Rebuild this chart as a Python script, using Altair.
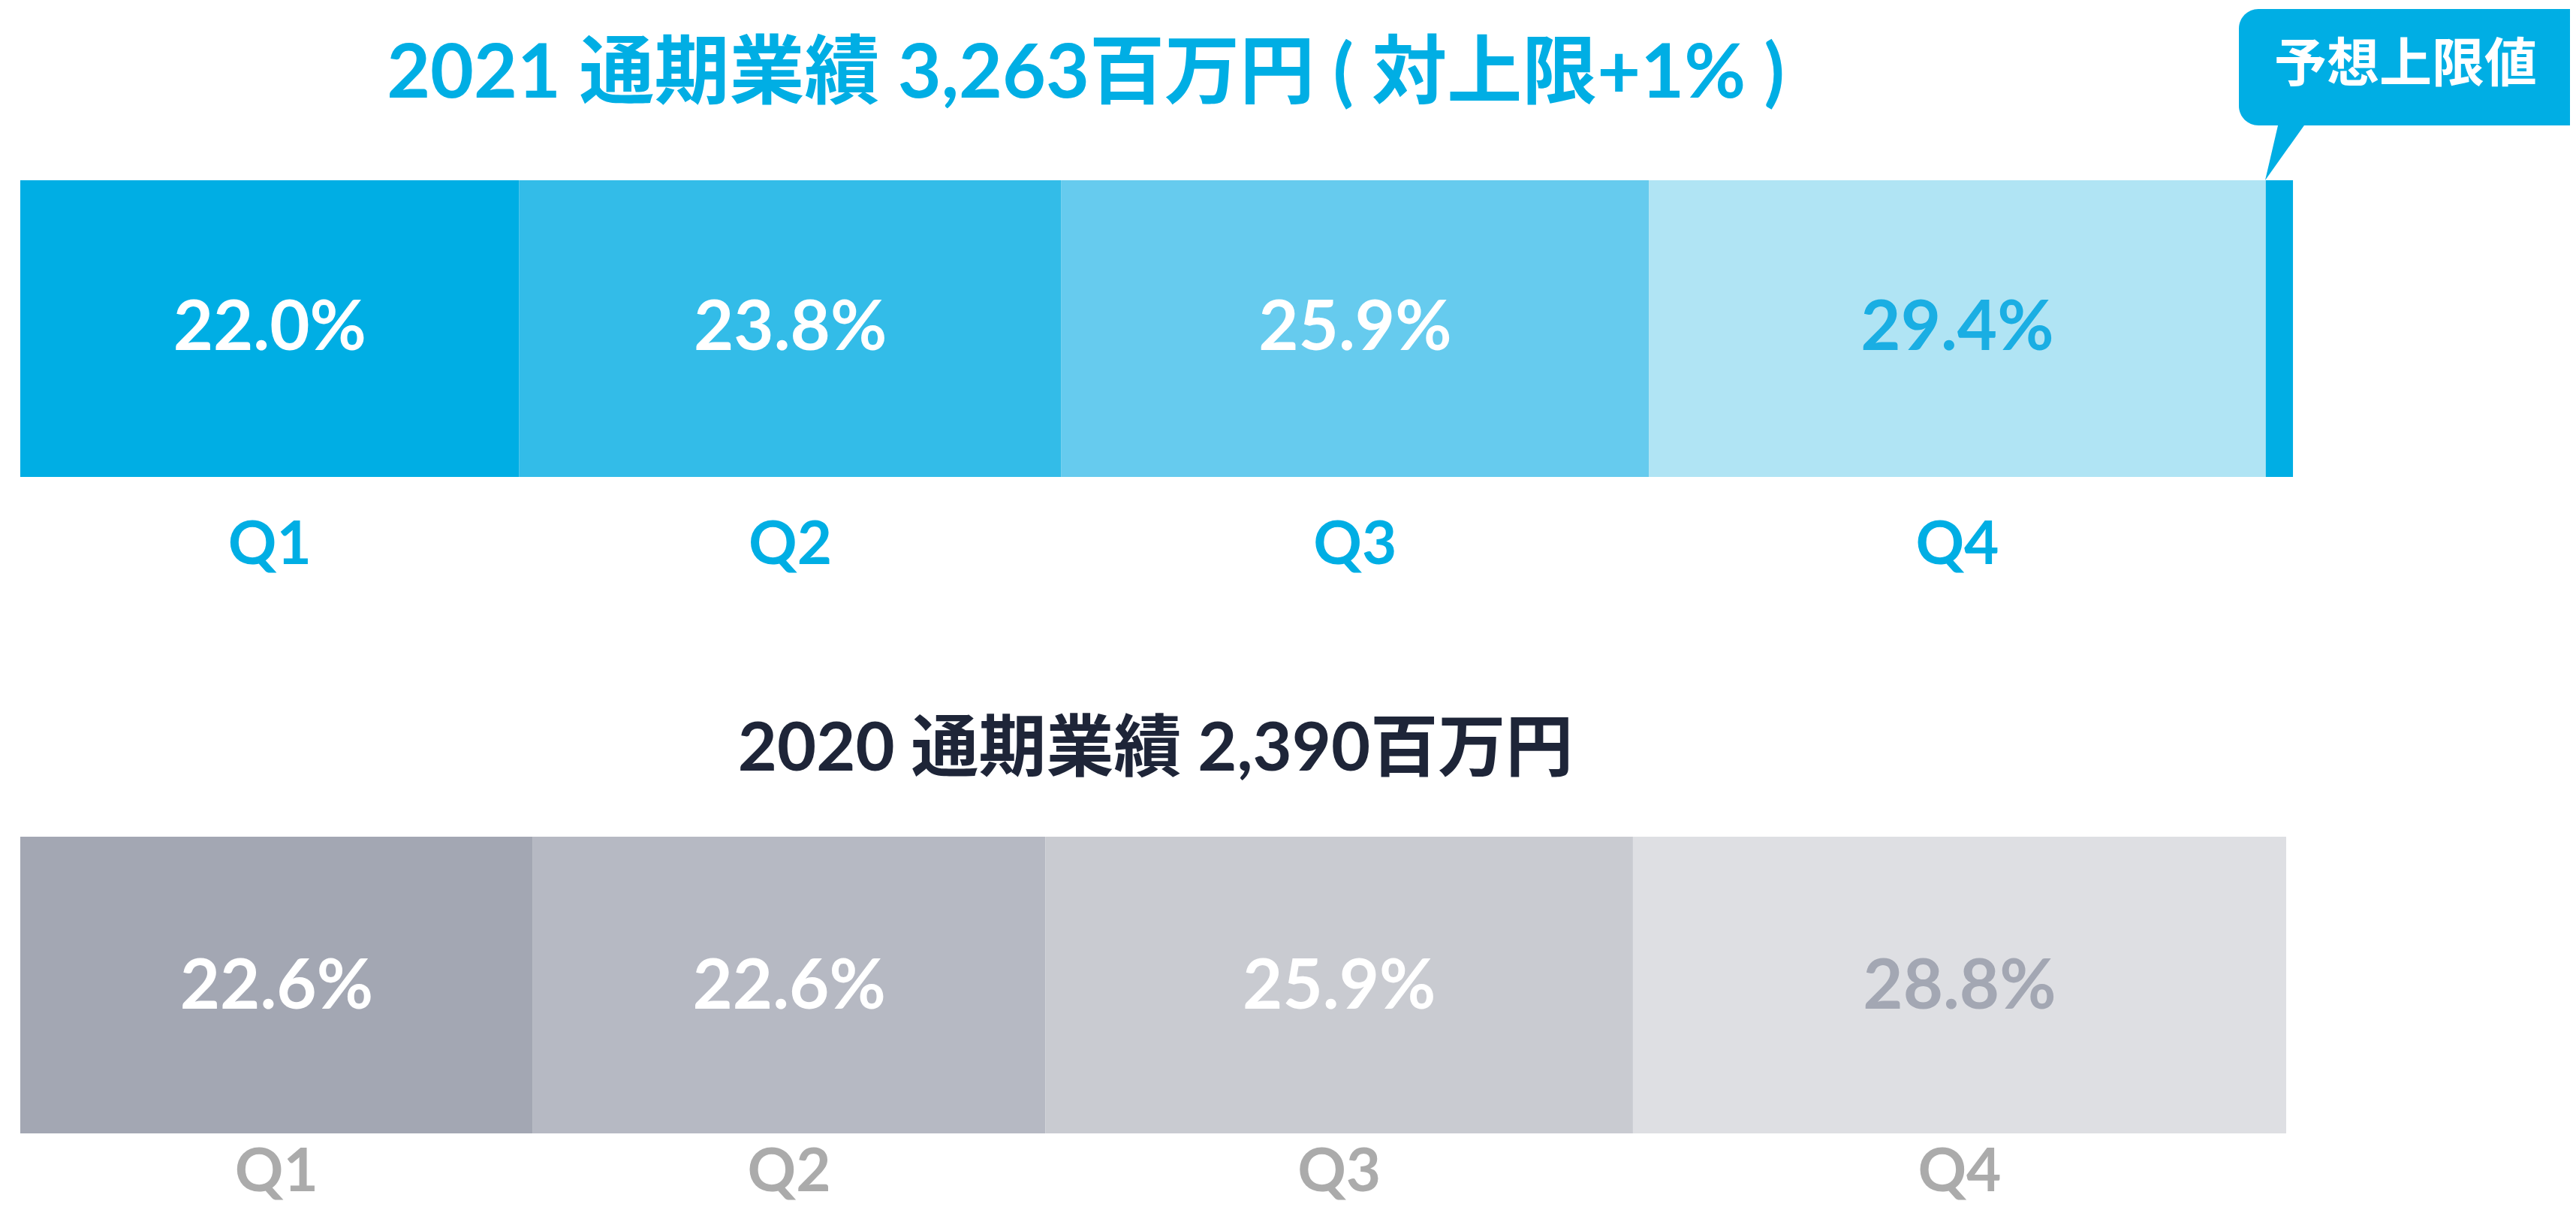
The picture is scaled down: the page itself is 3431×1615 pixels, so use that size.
import altair as alt
import pandas as pd

# ---------------- data ----------------
quarters = ["Q1", "Q2", "Q3", "Q4"]

# 2021: drawn segment widths (% of the full bar) and printed labels
shares_2021 = [22.0, 23.9, 25.9, 27.2]
labels_2021 = ["22.0%", "23.8%", "25.9%", "29.4%"]
excess_2021 = 1.2          # dark sliver beyond the forecast upper limit
title_2021 = "2021 通期業績 3,263百万円 ( 対上限+1% )"

# 2020
shares_2020 = [22.6, 22.6, 25.9, 28.8]
labels_2020 = ["22.6%", "22.6%", "25.9%", "28.8%"]
title_2020 = "2020 通期業績 2,390百万円"

callout_text = "予想上限値"

# ---------------- styles ----------------
fills_2021 = ["#00AEE4", "#33BCE8", "#66CBEE", "#B0E4F4"]
fills_2020 = ["#A3A7B3", "#B6B9C3", "#C9CBD1", "#DEDFE3"]
pct_colors_2021 = ["#FFFFFF", "#FFFFFF", "#FFFFFF", "#1AAEE3"]
pct_colors_2020 = ["#FFFFFF", "#FFFFFF", "#FFFFFF", "#A3A7B3"]
CYAN = "#00AEE4"
NAVY = "#1E2538"
QGRAY = "#ABABAB"
FONT = "Lato, 'Noto Sans CJK JP', sans-serif"
CJK = "'Noto Sans CJK JP', sans-serif"


def build(year, shares, labels, fills, pct_colors):
    rows = []
    start = 0.0
    for q, s, lab, f, pc in zip(quarters, shares, labels, fills, pct_colors):
        rows.append(dict(year=year, q=q, start=start, end=start + s,
                         mid=start + s / 2, label=lab, fill=f, pcolor=pc))
        start += s
    return rows, start


rows21, end21 = build("2021", shares_2021, labels_2021, fills_2021, pct_colors_2021)
rows20, _ = build("2020", shares_2020, labels_2020, fills_2020, pct_colors_2020)
q21 = pd.DataFrame(rows21)
q20 = pd.DataFrame(rows20)
extra = pd.DataFrame([dict(year="2021", q="上限超過", start=end21,
                           end=end21 + excess_2021, mid=end21 + excess_2021 / 2,
                           label="", fill=CYAN, pcolor=CYAN)])
segments = pd.concat([q21, extra, q20], ignore_index=True)

x_scale = alt.Scale(domain=[0, 100], range=[19, 3040])
y_scale = alt.Scale(domain=["2021", "2020"], range=[232, 1501],
                    paddingInner=0.548, paddingOuter=0)

X = lambda f: alt.X(f, type="quantitative", scale=x_scale, axis=None)
Y = alt.Y("year:N", scale=y_scale, axis=None)

bars = alt.Chart(segments).mark_bar().encode(
    x=X("start"), x2="end", y=Y,
    color=alt.Color("fill:N", scale=None),
)


def row_text(df, pct_dy, q_dy, q_color):
    pct = alt.Chart(df).mark_text(
        font=FONT, fontSize=92, fontWeight="bold", baseline="alphabetic",
        align="center", dy=pct_dy,
    ).encode(x=X("mid"), y=Y, text="label:N",
             color=alt.Color("pcolor:N", scale=None))
    ql = alt.Chart(df).mark_text(
        font=FONT, fontSize=80, fontWeight="bold", baseline="alphabetic",
        align="center", dy=q_dy, color=q_color,
    ).encode(x=X("mid"), y=Y, text="q:N")
    return pct + ql


text21 = row_text(q21, 28.5, 313.5, CYAN)
text20 = row_text(q20, 31.5, 275, QGRAY)

t21 = alt.Chart(pd.DataFrame({"year": ["2021"], "t": [title_2021]})).mark_text(
    font=FONT, fontSize=100, fontWeight="bold", baseline="alphabetic",
    align="center", dy=-307.5, color=CYAN,
).encode(x=alt.value(1438), y=Y, text="t:N")

t20 = alt.Chart(pd.DataFrame({"year": ["2020"], "t": [title_2020]})).mark_text(
    font=FONT, fontSize=90, fontWeight="bold", baseline="alphabetic",
    align="center", dy=-285.5, color=NAVY,
).encode(x=alt.value(1531), y=Y, text="t:N")

callout_df = pd.DataFrame({"t": [callout_text]})
box = alt.Chart(callout_df).mark_rect(cornerRadius=26, color=CYAN).encode(
    x=alt.value(2974), x2=alt.value(3440), y=alt.value(4), y2=alt.value(159)
)
pointer = alt.Chart(callout_df).mark_point(
    shape="M -0.66 0.9 L -0.24 -0.9 L 0.62 -0.9 Z", size=10000,
    filled=True, color=CYAN, opacity=1, strokeWidth=0,
).encode(x=alt.value(3042), y=alt.value(187))
callout_label = alt.Chart(callout_df).mark_text(
    font=CJK, fontSize=70, fontWeight="bold", color="#FFFFFF",
    baseline="middle", align="center",
).encode(x=alt.value(3196), y=alt.value(80), text="t:N")

chart = alt.layer(
    bars, text21, text20, t21, t20, box, pointer, callout_label
).properties(
    width=3415, height=1599,
    autosize=alt.AutoSizeParams(type="fit", contains="padding"),
    padding=0, background="#FFFFFF",
).configure_view(stroke=None)

chart.save("out.html", embed_options={"renderer": "svg", "actions": False})
